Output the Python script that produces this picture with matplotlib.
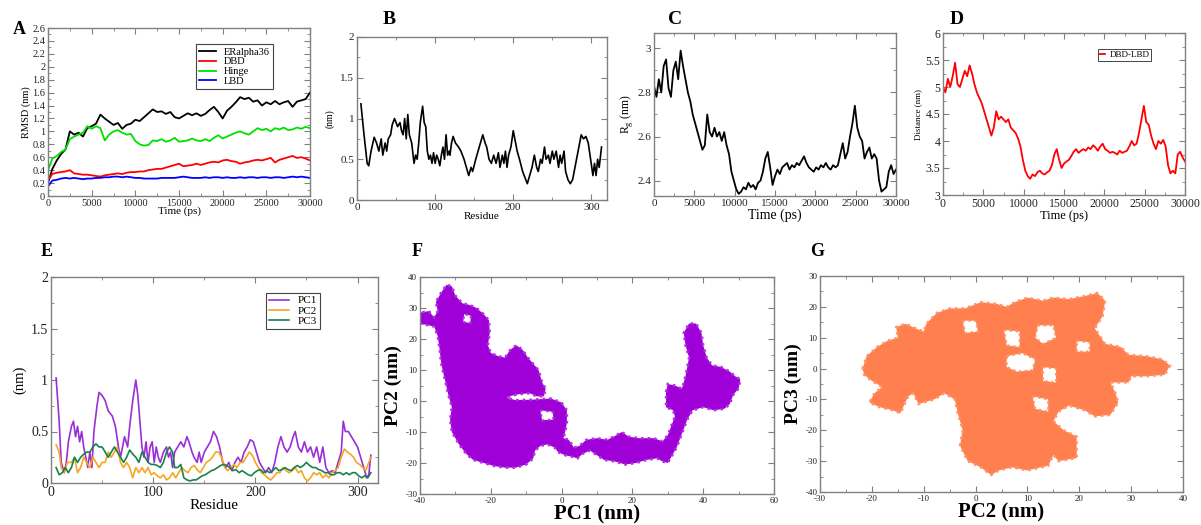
import numpy as np
import matplotlib
matplotlib.use('Agg')
import matplotlib.pyplot as plt
from matplotlib.ticker import MultipleLocator, FuncFormatter

plt.rcParams['font.family'] = ['Liberation Serif', 'DejaVu Serif']
plt.rcParams['mathtext.fontset'] = 'custom'
plt.rcParams['mathtext.rm'] = 'Liberation Serif'

# ---------------- data: panel A (RMSD) ----------------
time_A = np.arange(0, 30001, 500)
rmsd_full = [0.20, 0.42, 0.55, 0.65, 0.72, 1.00, 0.95, 0.98, 0.92, 1.05, 1.08, 1.12, 1.26, 1.20, 1.15, 1.10,
             1.13, 1.04, 1.10, 1.12, 1.18, 1.16, 1.22, 1.28, 1.34, 1.30, 1.31, 1.27, 1.30, 1.22, 1.20, 1.24,
             1.28, 1.25, 1.28, 1.24, 1.27, 1.33, 1.38, 1.30, 1.20, 1.32, 1.38, 1.45, 1.53, 1.50, 1.52, 1.46,
             1.48, 1.40, 1.45, 1.42, 1.47, 1.42, 1.45, 1.47, 1.38, 1.46, 1.48, 1.50, 1.60]
rmsd_dbd = [0.25, 0.34, 0.36, 0.37, 0.38, 0.40, 0.35, 0.34, 0.33, 0.33, 0.32, 0.31, 0.30, 0.32, 0.33, 0.34,
            0.35, 0.34, 0.36, 0.37, 0.37, 0.38, 0.38, 0.40, 0.41, 0.42, 0.42, 0.44, 0.46, 0.48, 0.50, 0.46,
            0.47, 0.48, 0.50, 0.48, 0.50, 0.52, 0.53, 0.52, 0.55, 0.56, 0.54, 0.53, 0.50, 0.52, 0.53, 0.55,
            0.56, 0.55, 0.57, 0.59, 0.52, 0.56, 0.58, 0.60, 0.62, 0.59, 0.60, 0.58, 0.55]
rmsd_hinge = [0.40, 0.58, 0.62, 0.68, 0.72, 0.88, 0.92, 0.95, 0.98, 1.08, 1.04, 1.08, 1.05, 0.86, 0.95, 1.00,
              1.02, 0.98, 0.95, 0.96, 0.85, 0.80, 0.78, 0.79, 0.86, 0.85, 0.88, 0.84, 0.86, 0.90, 0.84, 0.85,
              0.86, 0.89, 0.86, 0.85, 0.88, 0.85, 0.90, 0.94, 0.89, 0.92, 0.95, 0.98, 1.00, 0.97, 0.95, 1.00,
              1.05, 1.02, 1.04, 1.00, 1.05, 1.03, 1.06, 1.02, 1.03, 1.06, 1.04, 1.07, 1.05]
rmsd_lbd = [0.15, 0.24, 0.25, 0.27, 0.28, 0.27, 0.28, 0.27, 0.26, 0.27, 0.27, 0.28, 0.28, 0.29, 0.29, 0.30,
            0.30, 0.29, 0.30, 0.29, 0.28, 0.28, 0.27, 0.27, 0.27, 0.27, 0.28, 0.28, 0.28, 0.28, 0.29, 0.30,
            0.29, 0.28, 0.28, 0.28, 0.29, 0.28, 0.29, 0.29, 0.28, 0.29, 0.28, 0.28, 0.29, 0.28, 0.29, 0.29,
            0.28, 0.29, 0.29, 0.28, 0.29, 0.29, 0.28, 0.29, 0.30, 0.29, 0.30, 0.29, 0.28]
labels_A = ['ERalpha36', 'DBD', 'Hinge', 'LBD']

# ---------------- data: panel B (RMSF) ----------------
rmsf_B = [(5, 1.18), (9, 0.80), (13, 0.45), (15, 0.42), (18, 0.60), (22, 0.77), (25, 0.70), (28, 0.60),
          (31, 0.75), (33, 0.55), (36, 0.70), (38, 0.60), (40, 0.75), (43, 0.80), (45, 0.92), (48, 1.00),
          (50, 0.95), (52, 0.90), (55, 0.95), (57, 0.85), (59, 0.80), (61, 1.00), (63, 0.75), (65, 1.05),
          (67, 0.80), (70, 0.70), (73, 0.45), (75, 0.55), (77, 0.50), (79, 0.70), (81, 0.95), (84, 1.15),
          (86, 0.95), (88, 0.90), (90, 0.60), (92, 0.50), (94, 0.55), (96, 0.45), (98, 0.58), (100, 0.45),
          (102, 0.55), (104, 0.50), (106, 0.42), (108, 0.55), (110, 0.65), (112, 0.50), (114, 0.80),
          (116, 0.55), (118, 0.60), (119, 0.55), (121, 0.70), (123, 0.78), (126, 0.70), (130, 0.65),
          (133, 0.60), (137, 0.50), (140, 0.40), (143, 0.30), (146, 0.40), (148, 0.35), (152, 0.50),
          (155, 0.60), (158, 0.70), (161, 0.80), (164, 0.70), (166, 0.65), (169, 0.50), (172, 0.45),
          (175, 0.55), (178, 0.45), (181, 0.58), (183, 0.40), (186, 0.55), (188, 0.45), (190, 0.60),
          (192, 0.40), (194, 0.55), (197, 0.65), (200, 0.85), (203, 0.70), (205, 0.60), (208, 0.50),
          (212, 0.35), (216, 0.25), (218, 0.20), (221, 0.30), (224, 0.40), (227, 0.55), (230, 0.40),
          (232, 0.35), (235, 0.50), (237, 0.45), (240, 0.65), (242, 0.50), (245, 0.55), (247, 0.45),
          (250, 0.60), (252, 0.50), (255, 0.60), (258, 0.40), (260, 0.55), (262, 0.45), (265, 0.60),
          (267, 0.35), (270, 0.25), (273, 0.20), (276, 0.25), (279, 0.40), (282, 0.55), (284, 0.65),
          (287, 0.80), (290, 0.75), (293, 0.78), (296, 0.70), (299, 0.50), (302, 0.30), (304, 0.45),
          (306, 0.30), (308, 0.50), (310, 0.40), (313, 0.65)]

# ---------------- data: panel C (Rg) and D (distance) ----------------
time_CD = np.arange(0, 30001, 300)
rg_C = [2.83, 2.78, 2.86, 2.80, 2.92, 2.95, 2.82, 2.78, 2.90, 2.94, 2.86, 2.99, 2.92, 2.86, 2.80, 2.76,
        2.70, 2.66, 2.62, 2.58, 2.54, 2.56, 2.70, 2.62, 2.60, 2.64, 2.60, 2.62, 2.58, 2.62, 2.56, 2.52,
        2.44, 2.40, 2.36, 2.34, 2.35, 2.37, 2.36, 2.39, 2.37, 2.38, 2.36, 2.39, 2.40, 2.44, 2.50, 2.53,
        2.46, 2.38, 2.42, 2.45, 2.43, 2.46, 2.47, 2.48, 2.45, 2.47, 2.46, 2.48, 2.47, 2.49, 2.51, 2.48,
        2.46, 2.45, 2.44, 2.46, 2.45, 2.47, 2.46, 2.48, 2.46, 2.45, 2.47, 2.46, 2.47, 2.52, 2.57, 2.50,
        2.53, 2.60, 2.66, 2.74, 2.64, 2.60, 2.58, 2.50, 2.53, 2.55, 2.50, 2.52, 2.50, 2.40, 2.35, 2.36,
        2.37, 2.44, 2.47, 2.43, 2.45]
dist_D = [5.00, 4.90, 5.15, 5.00, 5.20, 5.45, 5.05, 5.00, 5.15, 5.30, 5.20, 5.40, 5.25, 5.05, 4.90, 4.80,
          4.70, 4.55, 4.40, 4.25, 4.10, 4.25, 4.55, 4.40, 4.45, 4.40, 4.35, 4.40, 4.25, 4.20, 4.15, 4.05,
          3.90, 3.65, 3.45, 3.35, 3.30, 3.38, 3.35, 3.42, 3.45, 3.40, 3.38, 3.42, 3.45, 3.55, 3.75, 3.85,
          3.65, 3.50, 3.58, 3.62, 3.65, 3.72, 3.80, 3.85, 3.78, 3.82, 3.85, 3.82, 3.88, 3.85, 3.92, 3.88,
          3.82, 3.90, 3.95, 3.85, 3.82, 3.78, 3.80, 3.78, 3.75, 3.82, 3.78, 3.80, 3.82, 3.90, 4.00, 3.92,
          3.95, 4.15, 4.40, 4.65, 4.35, 4.30, 4.10, 3.95, 3.85, 4.00, 3.95, 4.02, 3.90, 3.55, 3.40, 3.45,
          3.40, 3.75, 3.80, 3.70, 3.62]

# ---------------- data: panel E (PC fluctuations) ----------------
pc1_E = [(5, 1.02), (8, 0.6), (10, 0.2), (13, 0.1), (15, 0.2), (17, 0.4), (20, 0.55), (22, 0.6), (24, 0.45),
         (26, 0.55), (28, 0.4), (30, 0.5), (32, 0.35), (34, 0.25), (36, 0.15), (38, 0.3), (40, 0.15),
         (42, 0.5), (45, 0.75), (47, 0.88), (50, 0.85), (53, 0.8), (56, 0.7), (60, 0.65), (63, 0.55),
         (66, 0.35), (68, 0.25), (70, 0.35), (72, 0.45), (75, 0.35), (77, 0.55), (80, 0.8), (83, 1.0),
         (85, 0.85), (87, 0.6), (89, 0.35), (91, 0.25), (93, 0.4), (95, 0.2), (97, 0.35), (99, 0.4),
         (101, 0.2), (103, 0.35), (105, 0.25), (107, 0.2), (110, 0.3), (113, 0.35), (115, 0.25), (117, 0.3),
         (119, 0.15), (121, 0.3), (124, 0.35), (127, 0.4), (130, 0.35), (133, 0.45), (135, 0.4), (138, 0.3),
         (140, 0.25), (143, 0.2), (145, 0.3), (147, 0.2), (150, 0.3), (153, 0.35), (156, 0.4), (159, 0.5),
         (162, 0.45), (165, 0.35), (168, 0.2), (171, 0.15), (174, 0.2), (177, 0.12), (180, 0.2), (183, 0.25),
         (186, 0.2), (189, 0.3), (192, 0.35), (195, 0.42), (198, 0.4), (201, 0.3), (204, 0.2), (207, 0.15),
         (210, 0.1), (213, 0.15), (216, 0.1), (219, 0.2), (222, 0.35), (225, 0.45), (228, 0.35), (231, 0.3),
         (234, 0.35), (237, 0.45), (239, 0.5), (242, 0.35), (245, 0.3), (248, 0.4), (251, 0.3), (254, 0.35),
         (257, 0.25), (260, 0.35), (263, 0.2), (266, 0.35), (269, 0.15), (272, 0.1), (275, 0.12), (278, 0.1),
         (281, 0.2), (284, 0.3), (286, 0.6), (288, 0.5), (291, 0.5), (294, 0.45), (297, 0.4), (300, 0.35),
         (303, 0.25), (306, 0.15), (309, 0.05), (311, 0.08), (313, 0.27)]
pc2_E = [(5, 0.37), (8, 0.30), (10, 0.15), (13, 0.10), (16, 0.20), (20, 0.20), (23, 0.25), (26, 0.10),
         (29, 0.15), (32, 0.25), (35, 0.20), (38, 0.15), (41, 0.25), (44, 0.20), (47, 0.15), (50, 0.20),
         (53, 0.20), (56, 0.30), (59, 0.25), (62, 0.30), (65, 0.35), (68, 0.20), (71, 0.15), (74, 0.20),
         (77, 0.15), (80, 0.05), (83, 0.15), (86, 0.10), (89, 0.15), (92, 0.10), (95, 0.15), (98, 0.08),
         (101, 0.10), (104, 0.07), (107, 0.05), (110, 0.08), (113, 0.03), (116, 0.05), (119, 0.10),
         (122, 0.05), (125, 0.10), (128, 0.15), (131, 0.12), (134, 0.10), (137, 0.15), (140, 0.17),
         (143, 0.13), (146, 0.10), (149, 0.15), (152, 0.20), (155, 0.22), (158, 0.25), (161, 0.30),
         (164, 0.30), (167, 0.25), (170, 0.15), (173, 0.12), (176, 0.15), (179, 0.18), (182, 0.15),
         (185, 0.20), (188, 0.20), (191, 0.25), (194, 0.30), (197, 0.27), (200, 0.20), (203, 0.15),
         (206, 0.10), (209, 0.08), (212, 0.05), (215, 0.03), (218, 0.06), (221, 0.10), (224, 0.10),
         (227, 0.15), (230, 0.12), (233, 0.10), (236, 0.12), (239, 0.15), (242, 0.10), (245, 0.12),
         (248, 0.05), (251, 0.02), (254, 0.05), (257, 0.10), (260, 0.08), (263, 0.10), (266, 0.05),
         (269, 0.08), (272, 0.05), (275, 0.10), (278, 0.12), (281, 0.15), (284, 0.25), (287, 0.33),
         (290, 0.30), (293, 0.28), (296, 0.25), (299, 0.20), (302, 0.18), (305, 0.15), (308, 0.12),
         (311, 0.20), (313, 0.25)]
pc3_E = [(5, 0.15), (8, 0.08), (11, 0.10), (14, 0.15), (17, 0.10), (20, 0.15), (23, 0.25), (26, 0.20),
         (29, 0.25), (32, 0.28), (35, 0.30), (38, 0.30), (41, 0.35), (44, 0.38), (47, 0.35), (50, 0.35),
         (53, 0.30), (56, 0.25), (59, 0.30), (62, 0.35), (65, 0.30), (68, 0.25), (71, 0.20), (74, 0.25),
         (77, 0.32), (80, 0.28), (83, 0.25), (86, 0.20), (89, 0.30), (92, 0.25), (95, 0.20), (98, 0.18),
         (101, 0.18), (104, 0.17), (107, 0.15), (110, 0.20), (113, 0.30), (116, 0.35), (119, 0.30),
         (121, 0.15), (124, 0.15), (127, 0.18), (130, 0.05), (133, 0.03), (136, 0.02), (139, 0.03),
         (142, 0.03), (145, 0.05), (148, 0.07), (151, 0.08), (154, 0.10), (157, 0.12), (160, 0.13),
         (163, 0.15), (166, 0.17), (169, 0.18), (172, 0.17), (175, 0.15), (178, 0.12), (181, 0.13),
         (184, 0.10), (187, 0.12), (190, 0.10), (193, 0.08), (196, 0.07), (199, 0.10), (202, 0.12),
         (205, 0.13), (208, 0.10), (211, 0.12), (214, 0.10), (217, 0.12), (220, 0.15), (223, 0.12),
         (226, 0.13), (229, 0.15), (232, 0.13), (235, 0.12), (238, 0.15), (241, 0.17), (244, 0.15),
         (247, 0.17), (250, 0.20), (253, 0.17), (256, 0.15), (259, 0.15), (262, 0.13), (265, 0.12),
         (268, 0.10), (271, 0.10), (274, 0.08), (277, 0.08), (280, 0.10), (283, 0.10), (286, 0.08),
         (289, 0.10), (292, 0.08), (295, 0.10), (298, 0.10), (301, 0.07), (304, 0.05), (307, 0.07),
         (310, 0.05), (313, 0.10)]
labels_E = ['PC1', 'PC2', 'PC3']

# ---------------- data: panel F (PC1 vs PC2 cloud outline) ----------------
cloud_F = [(-40, 25), (-40, 28.5), (-37.5, 29), (-36, 27), (-35, 29), (-35.5, 32), (-34, 35), (-32.5, 37.5),
           (-31, 37), (-30, 34), (-28, 31.5), (-26, 31), (-24, 30), (-22, 28), (-20.5, 26), (-20.3, 22),
           (-20.8, 18), (-20, 15.5), (-18, 14.5), (-16, 14), (-14.5, 16.5), (-12.8, 18), (-11, 16.5),
           (-9.5, 14), (-8, 12), (-6.5, 10), (-5.5, 6), (-4.5, 4), (-5, 1.5), (-7, 1.5), (-9, 2.5), (-12, 2.2),
           (-14.5, 1.6), (-15.5, 1.0), (-13, 0.3), (-9, 0.4), (-6, 0.6), (-3, 0.8), (0, -0.5), (1.5, -3),
           (1.5, -7), (1, -10), (0.5, -12), (2, -12.5), (3.5, -15), (5, -14.5), (7, -12.5), (10, -12),
           (13, -12.5), (15.5, -11), (17, -10), (19, -11.5), (22, -12), (26, -12), (28.5, -13), (30, -11),
           (31, -8), (32, -5), (31.5, -3), (29.5, -2), (29.5, 3), (30, 5.5), (32, 5), (34, 4), (35, 8),
           (35.5, 11), (36, 14), (35, 18), (34.5, 22), (36, 25), (38, 25), (39.5, 22), (40, 18), (41, 14),
           (42.5, 11.5), (45, 11), (47.5, 9.5), (49, 8), (50.5, 7), (50, 4), (48.5, 2), (47.5, -1),
           (46, -2.5), (43, -3), (40, -2), (37, -3), (35.5, -6), (34.5, -9), (33.5, -12), (32.5, -15),
           (31, -18), (30, -20), (28.5, -19.5), (27, -18.5), (24, -19), (21, -20), (18, -20.5), (15, -19.5),
           (12, -19), (10, -17.5), (8, -16), (6, -17), (4.5, -18.5), (3, -18), (1, -17.5), (-1, -16.5),
           (-2, -15), (-4, -14), (-6, -14.5), (-7.5, -16), (-8, -18.5), (-10, -20.5), (-13, -21.5),
           (-16, -21.5), (-19, -21), (-22, -20), (-25, -19), (-27, -17), (-29, -14), (-31, -10),
           (-31.5, -6), (-31, -2), (-32, 2), (-33, 7), (-34, 12), (-34.5, 17), (-35, 21), (-36, 24),
           (-38, 24.5)]
holes_F = [[(-27.8, 25.5), (-25.8, 25.2), (-25.6, 27.5), (-27.5, 28)],
           [(-6, -3), (-2.5, -3.5), (-2.3, -6), (-5.5, -6.2)]]

# ---------------- data: panel G (PC2 vs PC3 cloud outline) ----------------
cloud_G = [(-21.8, 0), (-21, 4), (-19, 7), (-17, 9), (-15, 10), (-15.3, 13.5), (-13.5, 14.5), (-11.5, 13),
           (-10, 12), (-9.5, 14.5), (-7.5, 18), (-5, 19.5), (-2, 19.5), (1, 21.5), (4, 21), (6, 20),
           (7.5, 21.5), (10, 23), (13, 22), (15, 23), (18, 22.5), (21, 23.5), (23.5, 24.5), (25, 22),
           (24.5, 17), (23, 13), (25, 8), (28, 7), (29.5, 4.5), (33, 4), (36, 3), (37.5, 1), (36.5, -2),
           (33, -2.5), (30, -2.5), (29.5, -4.5), (26, -4.5), (27, -8), (27.5, -11), (26, -15), (23, -15.5),
           (21, -13.5), (18, -12), (16, -14), (15, -17), (17, -20), (19.5, -22), (19.5, -29), (16, -30),
           (15, -28), (14, -31.5), (10, -33), (7, -32), (4.5, -33), (3, -34.5), (1, -32), (-1.5, -30),
           (-3, -25), (-2.5, -20), (-3, -17), (-3.5, -14), (-4, -10), (-6, -8), (-8, -10), (-11, -11.5),
           (-12, -8), (-13, -9), (-14.5, -14.5), (-16, -13.5), (-18.5, -12.5), (-20.5, -11), (-19.5, -8),
           (-18, -6), (-20, -4), (-21.5, -2)]
holes_G = [[(6, 4), (9, 5), (11.5, 3), (11, -0.5), (8, -1), (6, 0.5)],
           [(12, 14), (15, 14), (15.5, 10), (13, 8), (11.5, 10)],
           [(19.5, 9), (22, 8.5), (22, 5.5), (19.5, 5.5)],
           [(11, -9), (14, -10), (14, -14), (11.5, -13)],
           [(-2.5, 15.5), (0, 15.5), (0.5, 12), (-2, 11.5)],
           [(13, 0.5), (15.5, 0), (15.5, -4.5), (13, -4)],
           [(5.5, 12.5), (8.5, 12), (8.5, 7), (6, 7.5)]]

# ---------------- figure ----------------
W, H = 1201, 525
fig = plt.figure(figsize=(W / 100, H / 100), dpi=100)


def add_ax(x0, x1, y0, y1):
    return fig.add_axes([x0 / W, 1 - y1 / H, (x1 - x0) / W, (y1 - y0) / H])


fmt = FuncFormatter(lambda v, p: f'{v:g}')
SPINE = '#808080'


def style(ax, xmaj, xmin, ymaj, ymin, fs):
    ax.xaxis.set_major_locator(MultipleLocator(xmaj))
    ax.xaxis.set_minor_locator(MultipleLocator(xmin))
    ax.yaxis.set_major_locator(MultipleLocator(ymaj))
    ax.yaxis.set_minor_locator(MultipleLocator(ymin))
    ax.xaxis.set_major_formatter(fmt)
    ax.yaxis.set_major_formatter(fmt)
    ax.tick_params(which='both', direction='in', top=True, right=True, colors=SPINE,
                   labelcolor='#222222', labelsize=fs, pad=2)
    ax.tick_params(which='major', length=4, width=0.8)
    ax.tick_params(which='minor', length=2, width=0.6)
    for s in ax.spines.values():
        s.set_color(SPINE)
        s.set_linewidth(1.0)


def letter(x, y, t, fs):
    fig.text(x / W, 1 - y / H, t, fontsize=fs, fontweight='bold', ha='center', va='center')


def cloud(ax, poly, holes, face, edge, hole_edge):
    px, py = zip(*poly)
    ax.fill(px, py, facecolor=face, edgecolor=edge, lw=1.8, ls=':')
    for h in holes:
        hx, hy = zip(*h)
        ax.fill(hx, hy, facecolor='white', edgecolor=hole_edge, lw=1.6, ls=':')


# A
axA = add_ax(48, 310, 28, 196)
assert len(rmsd_full) == len(time_A) == len(rmsd_dbd) == len(rmsd_hinge) == len(rmsd_lbd)
for vals, c, lab in zip([rmsd_full, rmsd_dbd, rmsd_hinge, rmsd_lbd], ['black', '#ff0000', '#00e000', '#0000ff'], labels_A):
    axA.plot(time_A, vals, color=c, lw=1.3, label=lab)
axA.set_xlim(0, 30000)
axA.set_ylim(0, 2.6)
style(axA, 5000, 2500, 0.2, 0.1, 7.5)
axA.set_xlabel('Time (ps)', fontsize=8, labelpad=-1)
axA.set_ylabel('RMSD (nm)', fontsize=7.5, labelpad=1)
lgA = axA.legend(loc='upper left', bbox_to_anchor=(0.545, 0.935), fontsize=7.5, handlelength=1.6,
                 handletextpad=0.8, labelspacing=0.05, borderpad=0.3, fancybox=False, framealpha=1,
                 edgecolor='#444444')
lgA.get_frame().set_linewidth(0.8)
letter(19, 29, 'A', 13)

# B
axB = add_ax(357, 607, 37, 200)
resB, valB = zip(*rmsf_B)
axB.plot(resB, valB, color='black', lw=1.2)
axB.set_xlim(0, 320)
axB.set_ylim(0, 2)
style(axB, 100, 50, 0.5, 0.25, 8)
axB.set_xlabel('Residue', fontsize=8, labelpad=0)
axB.set_ylabel('(nm)', fontsize=7, labelpad=4)
letter(389, 20, 'B', 14)

# C
axC = add_ax(654, 896, 33, 196)
assert len(rg_C) == len(time_CD)
axC.plot(time_CD, rg_C, color='black', lw=1.3)
axC.set_xlim(0, 30000)
axC.set_ylim(2.33, 3.07)
style(axC, 5000, 2500, 0.2, 0.1, 8)
axC.set_xlabel('Time (ps)', fontsize=10, labelpad=0.5)
axC.set_ylabel('R$_{\\mathregular{g}}$ (nm)', fontsize=8.5, labelpad=2)
letter(675, 19, 'C', 14)

# D
axD = add_ax(943, 1185, 33, 195)
assert len(dist_D) == len(time_CD)
axD.plot(time_CD, dist_D, color='#ff0000', lw=1.3, label='DBD-LBD')
axD.set_xlim(0, 30000)
axD.set_ylim(3, 6)
style(axD, 5000, 2500, 0.5, 0.25, 8.5)
axD.set_xlabel('Time (ps)', fontsize=9, labelpad=0.5)
axD.set_ylabel('Distance (nm)', fontsize=6.5, labelpad=2)
lgD = axD.legend(loc='upper left', bbox_to_anchor=(0.62, 0.93), fontsize=6.5, handlelength=0.6,
                 handletextpad=0.5, borderpad=0.2, fancybox=False, framealpha=1, edgecolor='#444444')
lgD.get_frame().set_linewidth(0.7)
letter(957, 19, 'D', 14)

# E
axE = add_ax(51, 378, 277, 483)
for series, c, lab in zip([pc1_E, pc2_E, pc3_E], ['#9a2fd6', '#f5a623', '#17834a'], labels_E):
    r, v = zip(*series)
    axE.plot(r, v, color=c, lw=1.2, label=lab)
axE.set_xlim(0, 320)
axE.set_ylim(0, 2)
style(axE, 100, 50, 0.5, 0.25, 10)
axE.set_xlabel('Residue', fontsize=11, labelpad=0)
axE.set_ylabel('(nm)', fontsize=10.5, labelpad=3)
lgE = axE.legend(loc='upper left', bbox_to_anchor=(0.64, 0.95), fontsize=8, handlelength=1.8,
                 handletextpad=0.8, labelspacing=0.05, borderpad=0.25, fancybox=False, framealpha=1,
                 edgecolor='#444444')
lgE.get_frame().set_linewidth(0.8)
letter(47, 252, 'E', 13)

# F
axF = add_ax(420, 774, 277, 494)
cloud(axF, cloud_F, holes_F, '#a000d8', '#b030e0', '#b030e0')
axF.set_xlim(-40, 60)
axF.set_ylim(-30, 40)
style(axF, 20, 10, 10, 5, 6.5)
axF.set_xlabel('PC1 (nm)', fontsize=15, fontweight='bold', labelpad=0)
axF.set_ylabel('PC2 (nm)', fontsize=14, fontweight='bold', labelpad=2)
letter(417, 251, 'F', 13)

# G
axG = add_ax(820, 1183, 276, 492)
cloud(axG, cloud_G, holes_G, '#ff7f4f', '#ff9468', '#ff9468')
axG.set_xlim(-30, 40)
axG.set_ylim(-40, 30)
style(axG, 10, 5, 10, 5, 6.5)
axG.set_xlabel('PC2 (nm)', fontsize=15, fontweight='bold', labelpad=0)
axG.set_ylabel('PC3 (nm)', fontsize=14, fontweight='bold', labelpad=2)
letter(817, 252, 'G', 13)

fig.savefig('out.png', dpi=100)
